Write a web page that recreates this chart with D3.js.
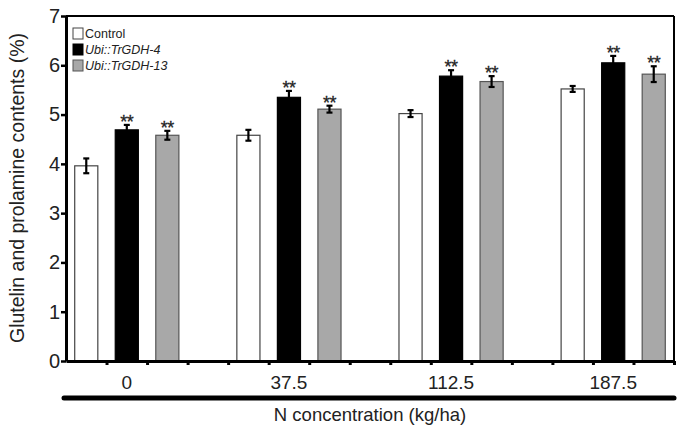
<!DOCTYPE html>
<html><head><meta charset="utf-8">
<script src="https://cdn.jsdelivr.net/npm/d3@7/dist/d3.min.js"></script>
<style>body{margin:0;background:#fff}svg{display:block;font-family:Arial,"Liberation Sans",sans-serif}</style>
</head><body><svg id="c" width="689" height="438"></svg>
<script>
const categories = ["0","37.5","112.5","187.5"];
const seriesNames = ["Control","Ubi::TrGDH-4","Ubi::TrGDH-13"];
const controlVals = [3.96, 4.58, 5.02, 5.52];
const controlErr  = [0.15, 0.11, 0.07, 0.06];
const gdh4Vals    = [4.69, 5.35, 5.78, 6.05];
const gdh4Err     = [0.10, 0.13, 0.12, 0.14];
const gdh13Vals   = [4.58, 5.11, 5.67, 5.82];
const gdh13Err    = [0.09, 0.07, 0.11, 0.16];
const gdh4Sig  = ["**","**","**","**"];
const gdh13Sig = ["**","**","**","**"];
const yTicks = [0,1,2,3,4,5,6,7];

const svg = d3.select("#c");
const L = 66, R = 674, T = 16, B = 361;
const slot = (R - L) / 15;
const y = d3.scaleLinear().domain([0,7]).range([B,T]);
const x0 = d3.scaleBand().domain(categories).range([L, R + slot]);
const p = 0.43;
const x1 = d3.scaleBand().domain(seriesNames).range([0, 3*slot]).paddingInner(p).paddingOuter(p/2);

const fills = ["#ffffff","#000000","#a8a8a8"];
const strokes = ["#444","#000","#555"];
const vals = [controlVals, gdh4Vals, gdh13Vals];
const errs = [controlErr, gdh4Err, gdh13Err];
const sigs = [null, gdh4Sig, gdh13Sig];

const data = [];
categories.forEach((c,i)=>seriesNames.forEach((s,j)=>data.push({c,s,j,v:vals[j][i],e:errs[j][i],sig:sigs[j]?sigs[j][i]:null})));

// bars
svg.append("g").selectAll("rect").data(data).join("rect")
  .attr("x", d=>x0(d.c)+x1(d.s)).attr("y", d=>y(d.v))
  .attr("width", x1.bandwidth()).attr("height", d=>B - y(d.v))
  .attr("fill", d=>fills[d.j]).attr("stroke", d=>strokes[d.j]).attr("stroke-width",1.2);

// error bars
const eb = svg.append("g").attr("stroke","#000");
data.forEach(d=>{
  const cx = x0(d.c)+x1(d.s)+x1.bandwidth()/2;
  eb.append("line").attr("x1",cx).attr("x2",cx).attr("y1",y(d.v+d.e)).attr("y2",y(d.v-d.e)).attr("stroke-width",2.2);
  [d.v+d.e,d.v-d.e].forEach(v=>eb.append("line").attr("x1",cx-3).attr("x2",cx+3).attr("y1",y(v)).attr("y2",y(v)).attr("stroke-width",2.2));
  if(d.sig) svg.append("text").attr("x",cx).attr("y",y(d.v+d.e)+3).attr("text-anchor","middle")
     .attr("font-size",18).attr("fill","#222").attr("stroke","#222").attr("stroke-width",0.3)
     .attr("letter-spacing",-0.5).text(d.sig);
});

// frame top & right
svg.append("line").attr("x1",L).attr("x2",R).attr("y1",T).attr("y2",T).attr("stroke","#000").attr("stroke-width",2);
svg.append("line").attr("x1",R).attr("x2",R).attr("y1",T).attr("y2",B).attr("stroke","#000").attr("stroke-width",2);

// y axis
const ya = svg.append("g").attr("transform",`translate(${L},0)`)
  .call(d3.axisLeft(y).tickValues(yTicks).tickFormat(d3.format("d")).tickSize(5).tickSizeOuter(0));
ya.select(".domain").attr("stroke-width",3);
ya.selectAll(".tick line").attr("stroke-width",2.5);
ya.selectAll("text").attr("font-size",20).attr("fill","#222").attr("x",-6).attr("font-family","Arial,'Liberation Sans',sans-serif");

// x axis baseline with minor ticks at slot boundaries
const bounds = [];
categories.forEach(c=>{ for(let k=0;k<4;k++) bounds.push(x0(c)+k*slot); });
bounds.push(R);
const boundaryScale = d3.scaleLinear().domain([L,R]).range([L,R]);
const xa = svg.append("g").attr("transform",`translate(0,${B})`)
  .call(d3.axisBottom(boundaryScale).tickValues(bounds.slice(1).filter(b=>b<=R+0.5)).tickFormat("").tickSize(4).tickSizeOuter(0));
xa.select(".domain").attr("stroke-width",3);
xa.selectAll(".tick line").attr("stroke-width",3);

// category labels
svg.append("g").selectAll("text").data(categories).join("text")
  .attr("x", c=>x0(c)+x1("Ubi::TrGDH-4")+x1.bandwidth()/2).attr("y",389)
  .attr("text-anchor","middle").attr("font-size",19).attr("fill","#222").text(c=>c);

// thick line
svg.append("line").attr("x1",64).attr("x2",674).attr("y1",398).attr("y2",398).attr("stroke","#000").attr("stroke-width",5).attr("stroke-linecap","round");

// axis titles
svg.append("text").attr("x",370).attr("y",421).attr("text-anchor","middle").attr("font-size",18.5).attr("fill","#222").text("N concentration (kg/ha)");
svg.append("text").attr("transform","translate(24,188) rotate(-90)").attr("text-anchor","middle").attr("font-size",19.5).attr("fill","#222").text("Glutelin and prolamine contents (%)");

// legend
const lg = svg.append("g").attr("transform","translate(73,28)");
seriesNames.forEach((s,j)=>{
  const g = lg.append("g").attr("transform",`translate(0,${j*16})`);
  g.append("rect").attr("width",10).attr("height",11).attr("fill",fills[j]).attr("stroke",strokes[j]);
  g.append("text").attr("x",12).attr("y",10).attr("font-size",12.5).attr("fill","#222")
    .attr("font-style", j===0?"normal":"italic").text(s);
});
</script></body></html>
